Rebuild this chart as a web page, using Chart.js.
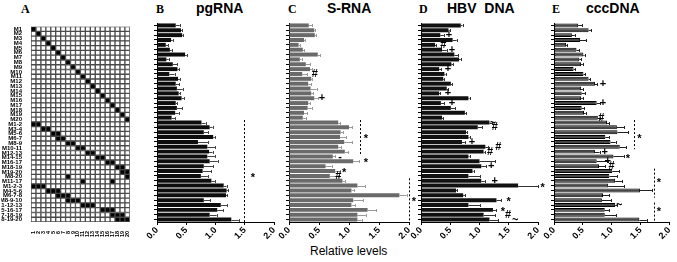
<!DOCTYPE html>
<html>
<head>
<meta charset="utf-8">
<script src="https://cdn.jsdelivr.net/npm/chart.js@4.4.1/dist/chart.umd.min.js"></script>
<style>
  body { margin: 0; background: #fff; width: 677px; height: 262px; position: relative; overflow: hidden; font-family: "Liberation Sans", Arial, sans-serif; }
  canvas { position: absolute; }
  .t { position: absolute; white-space: nowrap; color: #000; }
  .letter { font-family: "Liberation Serif", "Times New Roman", serif; font-weight: bold; font-size: 12px; }
  .name { font-weight: bold; font-size: 14px; }
</style>
</head>
<body>
<div class="t letter" style="left:21px;top:2px">A</div>
<div class="t letter" style="left:156px;top:2px">B</div>
<div class="t name" style="left:196px;top:0px">pgRNA</div>
<div class="t letter" style="left:288px;top:2px">C</div>
<div class="t name" style="left:327px;top:0px">S-RNA</div>
<div class="t letter" style="left:419px;top:2px">D</div>
<div class="t name" style="left:447px;top:0px">HBV&nbsp;&nbsp;DNA</div>
<div class="t letter" style="left:552px;top:2px">E</div>
<div class="t name" style="left:586px;top:0px">cccDNA</div>
<div class="t" style="left:310px;top:244px;font-size:12px">Relative levels</div>

<canvas id="matrix"></canvas>
<canvas id="pgrna"></canvas>
<canvas id="srna"></canvas>
<canvas id="hbvdna"></canvas>
<canvas id="cccdna"></canvas>

<script>
// rows of the mutant panel
const rowLabels = [
  'M1', 'M2', 'M3', 'M4', 'M5', 'M6', 'M7', 'M8', 'M9', 'M10',
  'M11', 'M12', 'M13', 'M14', 'M15', 'M16', 'M17', 'M18', 'M19', 'M20',
  'M1-2', 'M3-4', 'M5-6', 'M6-7', 'M8-9', 'M10-11', 'M12-13', 'M14-15', 'M16-17', 'M18-19',
  'M19-20', 'M8-20', 'M11-17', 'M1-2-3', 'M4-5-6', 'M6-7-8', 'M8-9-10', 'M11-12-13', 'M15-16-17', 'M17-18-19',
  'M18-19-20'
];
// which columns are filled in each row
const mutatedCols = [
  [1], [2], [3], [4], [5], [6], [7], [8], [9], [10],
  [11], [12], [13], [14], [15], [16], [17], [18], [19], [20],
  [1, 2], [3, 4], [5, 6], [6, 7], [8, 9], [10, 11], [12, 13], [14, 15], [16, 17], [18, 19],
  [19, 20], [8, 20], [11, 17], [1, 2, 3], [4, 5, 6], [6, 7, 8], [8, 9, 10], [11, 12, 13], [15, 16, 17], [17, 18, 19],
  [18, 19, 20]
];
const colLabels = ['1', '2', '3', '4', '5', '6', '7', '8', '9', '10', '11', '12', '13', '14', '15', '16', '17', '18', '19', '20'];
const xTicks = [0, 0.5, 1.0, 1.5, 2.0];

const pgRNA = [0.32, 0.41, 0.43, 0.24, 0.15, 0.22, 0.48, 0.16, 0.27, 0.35, 0.21, 0.36, 0.32, 0.34, 0.37, 0.42, 0.32, 0.34, 0.31, 0.25,
  0.76, 0.90, 0.80, 0.96, 0.70, 0.86, 0.89, 0.86, 0.90, 0.80, 0.78, 0.75, 0.93, 1.14, 1.19, 1.18, 0.80, 1.09, 1.03, 0.90, 1.27];
const pgRNAErr = [0.07, 0.02, 0.02, 0.03, 0.04, 0.03, 0.03, 0.04, 0.08, 0.03, 0.09, 0.03, 0.06, 0.10, 0.03, 0.04, 0.03, 0.09, 0.06, 0.06,
  0.07, 0.05, 0.07, 0.03, 0.17, 0.13, 0.06, 0.13, 0.14, 0.16, 0.15, 0.12, 0.06, 0.05, 0.03, 0.02, 0.11, 0.11, 0.10, 0.12, 0.13];

const sRNA = [0.33, 0.42, 0.43, 0.25, 0.16, 0.23, 0.48, 0.18, 0.28, 0.35, 0.22, 0.37, 0.32, 0.36, 0.37, 0.42, 0.32, 0.31, 0.25, 0.23,
  0.82, 1.00, 0.86, 0.85, 0.92, 0.82, 0.93, 0.73, 1.07, 0.61, 0.77, 0.68, 0.89, 1.14, 1.04, 1.84, 1.07, 1.04, 1.31, 1.14, 1.14];
const sRNAErr = [0.06, 0.02, 0.02, 0.02, 0.02, 0.02, 0.04, 0.03, 0.07, 0.03, 0.08, 0.02, 0.05, 0.10, 0.03, 0.06, 0.03, 0.07, 0.05, 0.05,
  0.03, 0.05, 0.04, 0.10, 0.13, 0.05, 0.06, 0.04, 0.10, 0.10, 0.08, 0.14, 0.04, 0.13, 0.04, 0.12, 0.17, 0.06, 0.14, 0.14, 0.07];

const hbvDNA = [0.68, 0.47, 0.33, 0.54, 0.24, 0.36, 0.57, 0.65, 0.52, 0.31, 0.40, 0.38, 0.51, 0.44, 0.31, 0.81, 0.34, 0.51, 0.75, 0.36,
  1.17, 0.97, 0.77, 0.81, 0.70, 1.10, 1.07, 0.81, 1.00, 1.03, 0.88, 0.81, 1.03, 1.66, 0.60, 0.72, 1.29, 0.81, 1.23, 1.07, 1.17];
const hbvDNAErr = [0.03, 0.02, 0.06, 0.07, 0.02, 0.08, 0.07, 0.03, 0.03, 0.04, 0.02, 0.02, 0.02, 0.02, 0.02, 0.02, 0.06, 0.07, 0.02, 0.02,
  0.05, 0.08, 0.02, 0.02, 0.05, 0.05, 0.02, 0.02, 0.27, 0.08, 0.02, 0.20, 0.06, 0.34, 0.02, 0.03, 0.08, 0.20, 0.05, 0.20, 0.15];

const cccDNA = [0.42, 0.60, 0.31, 0.45, 0.21, 0.39, 0.51, 0.44, 0.47, 0.34, 0.51, 0.60, 0.71, 0.47, 0.48, 0.47, 0.74, 0.48, 0.52, 0.76,
  0.92, 1.09, 1.10, 0.89, 0.98, 1.14, 0.71, 1.03, 0.74, 0.78, 1.01, 0.96, 1.06, 0.94, 1.49, 0.85, 0.83, 1.06, 0.88, 0.88, 1.48];
const cccDNAErr = [0.07, 0.04, 0.05, 0.11, 0.02, 0.05, 0.02, 0.03, 0.03, 0.03, 0.03, 0.03, 0.04, 0.03, 0.06, 0.03, 0.06, 0.04, 0.03, 0.03,
  0.04, 0.13, 0.19, 0.07, 0.09, 0.11, 0.08, 0.18, 0.19, 0.11, 0.12, 0.14, 0.12, 0.28, 0.21, 0.11, 0.16, 0.04, 0.08, 0.20, 0.13];

// significance marks: row index, x in axis units, symbol
const pgRNAMarks = [{ row: 31, x: 1.64, text: '*' }];
const pgRNALines = [{ x: 1.48, from: 20, to: 40 }];

const sRNAMarks = [
  { row: 10, x: 0.43, text: '#' }, { row: 15, x: 0.55, text: '+' },
  { row: 23, x: 1.28, text: '*' }, { row: 27, x: 0.85, text: '-' }, { row: 28, x: 1.28, text: '*' },
  { row: 30, x: 0.92, text: '*' }, { row: 31, x: 0.82, text: '#' }, { row: 36, x: 2.08, text: '*' }
];
const sRNALines = [{ x: 1.18, from: 20, to: 26 }, { x: 2.0, from: 32, to: 40 }];

const hbvDNAMarks = [
  { row: 2, x: 0.48, text: '+' }, { row: 4, x: 0.38, text: '#' }, { row: 5, x: 0.53, text: '+' },
  { row: 9, x: 0.46, text: '+' }, { row: 14, x: 0.46, text: '+' }, { row: 16, x: 0.53, text: '+' },
  { row: 20, x: 1.23, text: '~' }, { row: 21, x: 1.26, text: '#' }, { row: 24, x: 0.87, text: '+' },
  { row: 25, x: 1.32, text: '#' }, { row: 26, x: 1.18, text: '#' }, { row: 29, x: 1.20, text: '+' },
  { row: 32, x: 1.26, text: '+' }, { row: 33, x: 2.08, text: '*' }, { row: 36, x: 1.50, text: '*' },
  { row: 38, x: 1.40, text: '*' }, { row: 39, x: 1.49, text: '#' }, { row: 40, x: 1.61, text: '~' }
];
const hbvDNALines = [];

const cccDNAMarks = [
  { row: 12, x: 0.85, text: '+' }, { row: 16, x: 0.85, text: '+' }, { row: 19, x: 0.82, text: '#' },
  { row: 23, x: 1.48, text: '*' }, { row: 26, x: 0.88, text: '+' }, { row: 27, x: 1.28, text: '*' },
  { row: 28, x: 0.93, text: '+' }, { row: 29, x: 1.00, text: '#' }, { row: 32, x: 1.82, text: '*' },
  { row: 37, x: 1.13, text: '~' }, { row: 38, x: 1.82, text: '*' }
];
const cccDNALines = [{ x: 1.38, from: 20, to: 25 }, { x: 1.73, from: 30, to: 35 }, { x: 1.73, from: 37, to: 40 }];

// error bars, dashed brackets and marks drawn on top of the bars
const extrasPlugin = {
  id: 'extras',
  afterDatasetsDraw(chart, args, opts) {
    if (!opts.errors) return;
    const { ctx, scales: { x, y } } = chart;
    const meta = chart.getDatasetMeta(0);
    const values = chart.data.datasets[0].data;
    const half = (y.getPixelForValue(1) - y.getPixelForValue(0)) / 2;
    ctx.save();
    ctx.strokeStyle = opts.errColor;
    ctx.lineWidth = 1;
    meta.data.forEach((bar, i) => {
      const x0 = x.getPixelForValue(values[i]);
      const x1 = x.getPixelForValue(values[i] + opts.errors[i]);
      const yc = Math.round(bar.y) + 0.5;
      ctx.beginPath();
      ctx.moveTo(x0, yc);
      ctx.lineTo(x1, yc);
      ctx.moveTo(Math.round(x1) + 0.5, yc - 1.5);
      ctx.lineTo(Math.round(x1) + 0.5, yc + 1.5);
      ctx.stroke();
    });
    ctx.strokeStyle = '#000';
    ctx.setLineDash([2, 2]);
    opts.lines.forEach(l => {
      const px = Math.round(x.getPixelForValue(l.x)) + 0.5;
      ctx.beginPath();
      ctx.moveTo(px, y.getPixelForValue(l.from) - half);
      ctx.lineTo(px, y.getPixelForValue(l.to) + half);
      ctx.stroke();
    });
    ctx.setLineDash([]);
    ctx.fillStyle = '#000';
    ctx.font = 'bold 11px "Liberation Sans", Arial, sans-serif';
    ctx.textAlign = 'center';
    ctx.textBaseline = 'middle';
    opts.marks.forEach(m => {
      const ty = y.getPixelForValue(m.row) + (m.text === '*' ? 2 : 0);
      ctx.fillText(m.text, x.getPixelForValue(m.x), ty);
    });
    ctx.restore();
  }
};
Chart.register(extrasPlugin);

function place(canvas, box, pad) {
  canvas.style.left = (box.l - pad.l) + 'px';
  canvas.style.top = (box.t - pad.t) + 'px';
  canvas.width = box.r - box.l + pad.l + pad.r;
  canvas.height = box.b - box.t + pad.t + pad.b;
}

function drawPanel(id, box, values, errors, marks, lines, style) {
  // axis: 8px for the y ticks, plus room on the left for the rotated "0.0"
  const yAxisW = 8;
  const pad = { l: 20, r: 12, t: 5, b: 28 };
  if (box.r + pad.r > 677) pad.r = 677 - box.r;
  const canvas = document.getElementById(id);
  place(canvas, box, pad);
  new Chart(canvas, {
    type: 'bar',
    data: {
      labels: rowLabels,
      datasets: [{
        data: values,
        backgroundColor: style.fill,
        borderColor: style.border,
        borderWidth: style.borderWidth,
        borderSkipped: false,
        barPercentage: 0.82,
        categoryPercentage: 1
      }]
    },
    options: {
      indexAxis: 'y',
      responsive: false,
      animation: false,
      layout: { padding: { left: pad.l - yAxisW, right: pad.r, top: pad.t, bottom: 0 } },
      plugins: {
        legend: { display: false },
        tooltip: { enabled: false },
        extras: { errors, marks, lines, errColor: style.errColor }
      },
      scales: {
        x: {
          min: 0,
          max: 2,
          afterBuildTicks: s => { s.ticks = xTicks.map(v => ({ value: v })); },
          afterFit: s => { s.height = pad.b; },
          ticks: {
            callback: v => v.toFixed(1),
            minRotation: 45,
            maxRotation: 45,
            padding: 0,
            color: '#000',
            font: { family: '"Liberation Sans", Arial, sans-serif', size: 9, weight: 'bold' }
          },
          grid: { drawOnChartArea: false, tickLength: 3, color: '#000' },
          border: { color: '#000', width: 1 }
        },
        y: {
          afterFit: s => { s.width = yAxisW; },
          ticks: { display: false },
          grid: { drawOnChartArea: false, tickLength: 3, color: '#000', offset: false },
          border: { color: '#000', width: 1 }
        }
      }
    }
  });
}

// mutant matrix (panel A): one stacked dataset per column
function drawMatrix() {
  const box = { l: 31, r: 133, t: 23, b: 222 };
  const pad = { l: 30, r: 2, t: 1, b: 18 };
  const canvas = document.getElementById('matrix');
  place(canvas, box, pad);
  const datasets = colLabels.map((c, j) => ({
    data: rowLabels.map(() => 1),
    backgroundColor: mutatedCols.map(cols => cols.includes(j + 1) ? '#000' : '#fff'),
    borderColor: '#4a4a4a',
    borderWidth: 1,
    borderSkipped: false,
    barPercentage: 1,
    categoryPercentage: 1
  }));
  new Chart(canvas, {
    type: 'bar',
    data: { labels: rowLabels, datasets },
    options: {
      indexAxis: 'y',
      responsive: false,
      animation: false,
      layout: { padding: { left: 0, right: pad.r, top: pad.t, bottom: 0 } },
      plugins: { legend: { display: false }, tooltip: { enabled: false } },
      scales: {
        x: {
          stacked: true,
          min: 0,
          max: colLabels.length,
          afterBuildTicks: s => { s.ticks = colLabels.map((c, i) => ({ value: i + 0.5 })); },
          afterFit: s => { s.height = pad.b; },
          ticks: {
            callback: (v, i) => colLabels[i],
            autoSkip: false,
            minRotation: 90,
            maxRotation: 90,
            padding: 1,
            color: '#000',
            font: { family: '"Liberation Sans Narrow", "Liberation Sans", Arial, sans-serif', size: 5.5, weight: 'bold' }
          },
          grid: { display: false },
          border: { display: false }
        },
        y: {
          stacked: true,
          afterFit: s => { s.width = pad.l; },
          ticks: {
            padding: 1,
            autoSkip: false,
            color: '#000',
            font: { family: '"Liberation Sans Narrow", "Liberation Sans", Arial, sans-serif', size: 6, weight: 'bold' }
          },
          grid: { display: false },
          border: { display: false }
        }
      }
    }
  });
}

drawMatrix();
drawPanel('pgrna', { l: 157, r: 274, t: 23, b: 222 }, pgRNA, pgRNAErr, pgRNAMarks, pgRNALines,
  { fill: '#0d0d0d', border: '#0d0d0d', borderWidth: 0, errColor: '#444' });
drawPanel('srna', { l: 289, r: 409, t: 23, b: 222 }, sRNA, sRNAErr, sRNAMarks, sRNALines,
  { fill: '#6a6a6a', border: '#6a6a6a', borderWidth: 0, errColor: '#9a9a9a' });
drawPanel('hbvdna', { l: 421, r: 538, t: 23, b: 222 }, hbvDNA, hbvDNAErr, hbvDNAMarks, hbvDNALines,
  { fill: '#111', border: '#111', borderWidth: 0, errColor: '#333' });
drawPanel('cccdna', { l: 554, r: 674, t: 23, b: 222 }, cccDNA, cccDNAErr, cccDNAMarks, cccDNALines,
  { fill: '#464646', border: '#000', borderWidth: 1, errColor: '#222' });
</script>
</body>
</html>
